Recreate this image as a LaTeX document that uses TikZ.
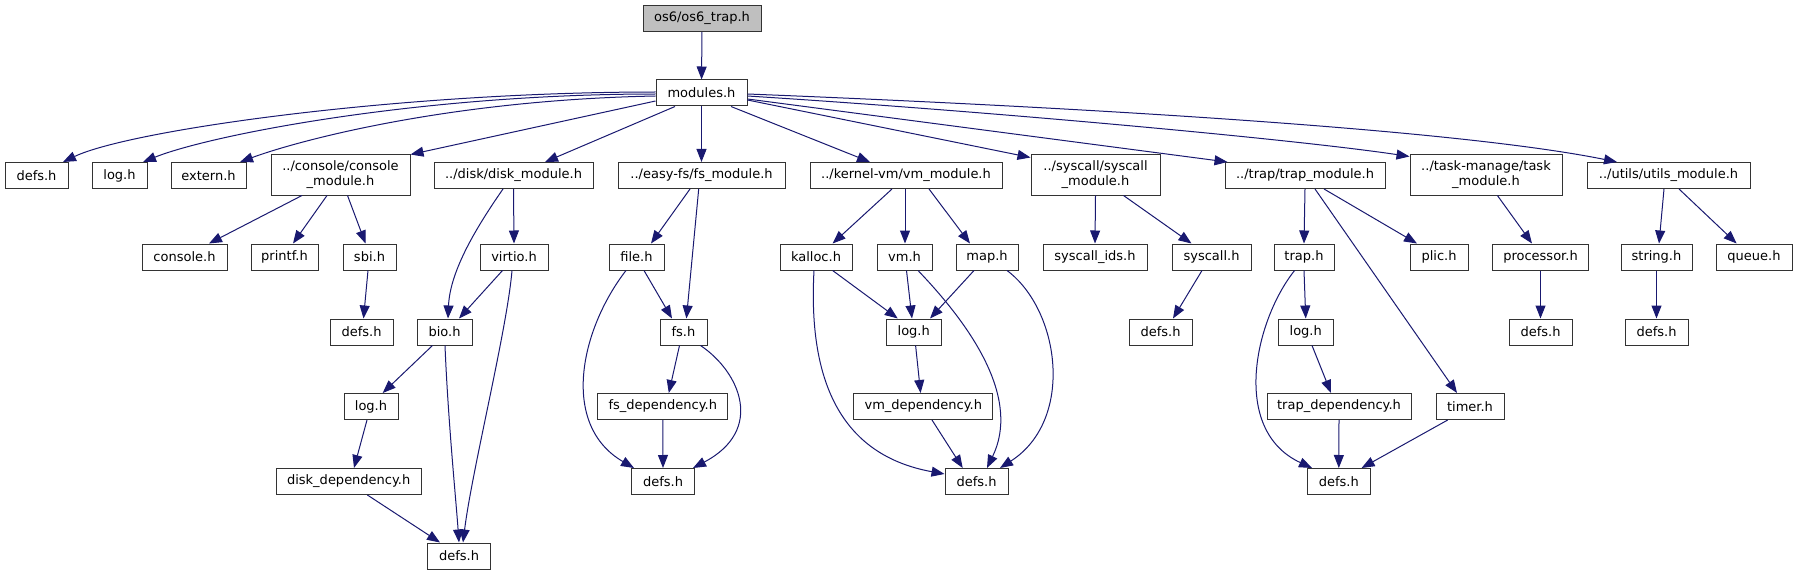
\documentclass[tikz,border=0pt]{standalone}
\usepackage{fontspec}
\newfontfamily\dvfont{DejaVu Sans}
\usetikzlibrary{arrows.meta}
\definecolor{edgeblue}{HTML}{191970}
\definecolor{boxgray}{HTML}{333333}
\definecolor{rootgray}{HTML}{BFBFBF}
\tikzset{
  box/.style={draw=boxgray, line width=1pt, fill=white, minimum height=26pt, inner sep=0pt, align=center,
    font=\dvfont\fontsize{13}{15}\selectfont},
  twoline/.style={box, minimum height=40pt},
  edge/.style={draw=edgeblue, line width=1pt, -{Triangle[length=13pt,width=10pt]}},
}
\begin{document}
\begin{tikzpicture}[x=1pt,y=-1pt]
\useasboundingbox (0,0) rectangle (1797,575);
% level 0 / 1
\node[box, minimum width=118pt, fill=rootgray] (root) at (702,18.5) {os6/os6\_trap.h};
\node[box, minimum width=91pt] (modules) at (701.5,93) {modules.h};
% level 2
\node[box, minimum width=63pt] (defsA) at (36.5,175.5) {defs.h};
\node[box, minimum width=55pt] (logA) at (119.5,175.5) {log.h};
\node[box, minimum width=75pt] (extern) at (208.5,175.5) {extern.h};
\node[twoline, minimum width=139pt] (consmod) at (340.5,175) {../console/console\\\_module.h};
\node[box, minimum width=159pt] (diskmod) at (513.5,175.5) {../disk/disk\_module.h};
\node[box, minimum width=167pt] (fsmod) at (701.5,175.5) {../easy-fs/fs\_module.h};
\node[box, minimum width=192pt] (vmmod) at (906,175.5) {../kernel-vm/vm\_module.h};
\node[twoline, minimum width=129pt] (sysmod) at (1095.5,175) {../syscall/syscall\\\_module.h};
\node[box, minimum width=160pt] (trapmod) at (1305,175.5) {../trap/trap\_module.h};
\node[twoline, minimum width=152pt] (taskmod) at (1486,175) {../task-manage/task\\\_module.h};
\node[box, minimum width=163pt] (utilsmod) at (1668.5,175.5) {../utils/utils\_module.h};
% level 3
\node[box, minimum width=85pt] (console) at (184.5,257) {console.h};
\node[box, minimum width=67pt] (printf) at (284.5,257) {printf.h};
\node[box, minimum width=53pt] (sbi) at (369.5,257) {sbi.h};
\node[box, minimum width=68pt] (virtio) at (514,257) {virtio.h};
\node[box, minimum width=55pt] (file) at (636.5,257) {file.h};
\node[box, minimum width=72pt] (kalloc) at (816,257) {kalloc.h};
\node[box, minimum width=55pt] (vmh) at (904.5,257) {vm.h};
\node[box, minimum width=62pt] (map) at (987,257) {map.h};
\node[box, minimum width=104pt] (sysids) at (1095,257) {syscall\_ids.h};
\node[box, minimum width=79pt] (syscall) at (1211.5,257) {syscall.h};
\node[box, minimum width=60pt] (traph) at (1304,257) {trap.h};
\node[box, minimum width=58pt] (plic) at (1439,257) {plic.h};
\node[box, minimum width=96pt] (proc) at (1540.5,257) {processor.h};
\node[box, minimum width=71pt] (string) at (1656.5,257) {string.h};
\node[box, minimum width=76pt] (queue) at (1754,257) {queue.h};
% level 4
\node[box, minimum width=63pt] (defsSbi) at (361.5,332) {defs.h};
\node[box, minimum width=55pt] (bio) at (444.5,332) {bio.h};
\node[box, minimum width=47pt] (fsh) at (683.5,332) {fs.h};
\node[box, minimum width=55pt] (logVm) at (913.75,332) {log.h};
\node[box, minimum width=63pt] (defsSys) at (1160.5,332) {defs.h};
\node[box, minimum width=55pt] (logTrap) at (1305.75,332) {log.h};
\node[box, minimum width=63pt] (defsProc) at (1540.5,332) {defs.h};
\node[box, minimum width=63pt] (defsStr) at (1656.5,332) {defs.h};
% level 5
\node[box, minimum width=54pt] (logDisk) at (371,406.5) {log.h};
\node[box, minimum width=130pt] (fsdep) at (662.8,406.5) {fs\_dependency.h};
\node[box, minimum width=139pt] (vmdep) at (923.3,406.5) {vm\_dependency.h};
\node[box, minimum width=144pt] (trapdep) at (1339,406.5) {trap\_dependency.h};
\node[box, minimum width=68pt] (timer) at (1470,406.5) {timer.h};
% level 6
\node[box, minimum width=145pt] (diskdep) at (348.7,481.5) {disk\_dependency.h};
\node[box, minimum width=63pt] (defsFs) at (663,481.5) {defs.h};
\node[box, minimum width=63pt] (defsVm) at (976.5,481.5) {defs.h};
\node[box, minimum width=63pt] (defsTrap) at (1338.8,481.5) {defs.h};
% level 7
\node[box, minimum width=63pt] (defsDisk) at (459,556) {defs.h};

% ---- edges ----
\draw[edge] (root) -- (modules);
\draw[edge] ([yshift=1pt]modules.west) .. controls (400,92) and (130,130) .. ([xshift=26.5pt]defsA.north);
\draw[edge] ([yshift=-1pt]modules.west) .. controls (420,94) and (210,135) .. ([xshift=23.5pt]logA.north);
\draw[edge] ([yshift=-3pt]modules.west) .. controls (450,100) and (300,140) .. ([xshift=31.5pt]extern.north);
\draw[edge] ([yshift=-8pt]modules.west) -- (consmod.north east);
\draw[edge] ([xshift=-26.5pt]modules.south) -- ([xshift=31.5pt]diskmod.north);
\draw[edge] (modules.south) -- (fsmod.north);
\draw[edge] ([xshift=29.5pt]modules.south) -- ([xshift=-36pt]vmmod.north);
\draw[edge] ([yshift=-7pt]modules.east) -- ([yshift=-3pt]sysmod.north west);
\draw[edge] ([yshift=-6pt]modules.east) -- ([xshift=3pt]trapmod.north west);
\draw[edge] ([yshift=-3pt]modules.east) .. controls (1000,112) and (1300,140) .. ([yshift=-2pt]taskmod.north west);
\draw[edge] ([yshift=-1pt]modules.east) .. controls (1050,106) and (1450,128) .. ([xshift=-51.5pt]utilsmod.north);

% console module
\draw[edge] ([xshift=-38.5pt]consmod.south) -- ([xshift=24.5pt]console.north);
\draw[edge] ([xshift=-13.5pt]consmod.south) -- ([xshift=8.5pt]printf.north);
\draw[edge] ([xshift=7pt]consmod.south) -- ([xshift=-4pt]sbi.north);
\draw[edge] ([xshift=-1.5pt]sbi.south) -- ([xshift=2pt]defsSbi.north);

% disk module
\draw[edge] ([xshift=-10.5pt]diskmod.south) .. controls (478,225) and (450,270) .. ([xshift=3.5pt]bio.north);
\draw[edge] (diskmod.south) -- (virtio.north);
\draw[edge] ([xshift=-11.5pt]virtio.south) -- ([xshift=14.5pt]bio.north);
\draw[edge] ([xshift=-2pt]virtio.south) .. controls (507,330) and (472,470) .. ([xshift=4pt]defsDisk.north);
\draw[edge] ([xshift=-12pt]bio.south) -- ([xshift=11.7pt]logDisk.north);
\draw[edge] ([xshift=0.5pt]bio.south) .. controls (448,420) and (456,500) .. (defsDisk.north);
\draw[edge] ([xshift=-4pt]logDisk.south) -- ([xshift=5.3pt]diskdep.north);
\draw[edge] ([xshift=18.7pt]diskdep.south) -- ([xshift=-19pt]defsDisk.north);

% fs module
\draw[edge] ([xshift=-11.5pt]fsmod.south) -- ([xshift=14.5pt]file.north);
\draw[edge] ([xshift=-2.8pt]fsmod.south) -- ([xshift=2.9pt]fsh.north);
\draw[edge] ([xshift=7.5pt]file.south) -- ([xshift=-11.5pt]fsh.north);
\draw[edge] ([xshift=-10.5pt]file.south) .. controls (580,330) and (560,425) .. ([xshift=-29pt]defsFs.north);
\draw[edge] ([xshift=-4pt]fsh.south) -- ([xshift=6pt]fsdep.north);
\draw[edge] ([xshift=17pt]fsh.south) .. controls (740,372) and (765,430) .. ([xshift=30pt]defsFs.north);
\draw[edge] (fsdep.south) -- (defsFs.north);

% vm module
\draw[edge] ([xshift=-14pt]vmmod.south) -- ([xshift=16.6pt]kalloc.north);
\draw[edge] ([xshift=-1pt]vmmod.south) -- ([xshift=0.5pt]vmh.north);
\draw[edge] ([xshift=23pt]vmmod.south) -- ([xshift=-17pt]map.north);
\draw[edge] ([xshift=16.6pt]kalloc.south) -- ([xshift=-16pt]logVm.north);
\draw[edge] ([xshift=-2pt]kalloc.south) .. controls (808,380) and (840,455) .. ([yshift=7.5pt]defsVm.west);
\draw[edge] ([xshift=2pt]vmh.south) -- ([xshift=-1.75pt]logVm.north);
\draw[edge] ([xshift=13.5pt]vmh.south) .. controls (975,330) and (1020,400) .. ([xshift=10.5pt]defsVm.north);
\draw[edge] ([xshift=-13pt]map.south) -- ([xshift=16.25pt]logVm.north);
\draw[edge] ([xshift=20pt]map.south) .. controls (1060,310) and (1075,420) .. ([xshift=23.5pt]defsVm.north);
\draw[edge] ([xshift=1.85pt]logVm.south) -- ([xshift=-2.7pt]vmdep.north);
\draw[edge] ([xshift=8.7pt]vmdep.south) -- ([xshift=-13.8pt]defsVm.north);

% syscall module
\draw[edge] (sysmod.south) -- (sysids.north);
\draw[edge] ([xshift=28pt]sysmod.south) -- ([xshift=-20pt]syscall.north);
\draw[edge] ([xshift=-9.5pt]syscall.south) -- ([xshift=12.5pt]defsSys.north);

% trap module
\draw[edge] (trapmod.south) -- (traph.north);
\draw[edge] ([xshift=10pt]trapmod.south) -- ([xshift=-13pt]timer.north);
\draw[edge] ([xshift=19pt]trapmod.south) -- ([xshift=-22pt]plic.north);
\draw[edge] (traph.south) -- (logTrap.north);
\draw[edge] ([xshift=-9.4pt]traph.south) .. controls (1255,320) and (1230,430) .. ([xshift=-26.8pt]defsTrap.north);
\draw[edge] ([xshift=6.25pt]logTrap.south) -- ([xshift=-8pt]trapdep.north);
\draw[edge] (trapdep.south) -- (defsTrap.north);
\draw[edge] ([xshift=-22.3pt]timer.south) -- ([xshift=22.8pt]defsTrap.north);

% task module
\draw[edge] ([xshift=11.4pt]taskmod.south) -- ([xshift=-8.5pt]proc.north);
\draw[edge] (proc.south) -- (defsProc.north);

% utils module
\draw[edge] ([xshift=-4.5pt]utilsmod.south) -- ([xshift=2.5pt]string.north);
\draw[edge] ([xshift=10.5pt]utilsmod.south) -- ([xshift=-17.4pt]queue.north);
\draw[edge] (string.south) -- (defsStr.north);
\end{tikzpicture}
\end{document}
